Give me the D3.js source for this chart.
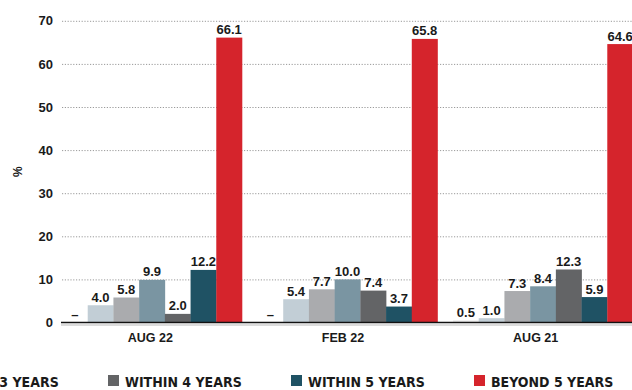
<!DOCTYPE html>
<html>
<head>
<meta charset="utf-8">
<script src="https://cdn.jsdelivr.net/npm/d3@7/dist/d3.min.js"></script>
<style>
  html, body { margin: 0; padding: 0; background: #fff; }
  svg { display: block; }
  text { font-family: "Liberation Sans", Arial, sans-serif; font-weight: bold; fill: #1a1a1a; }
  .legend text { font-family: "Liberation Sans Narrow", "DejaVu Sans Condensed", sans-serif; }
</style>
</head>
<body>
<svg id="chart" width="632" height="390"></svg>
<script>
// ---- data ----
const categories = ["AUG 22", "FEB 22", "AUG 21"];
const seriesNames = ["WITHIN 6 MONTHS", "WITHIN 1 YEAR", "WITHIN 2 YEARS", "WITHIN 3 YEARS", "WITHIN 4 YEARS", "WITHIN 5 YEARS", "BEYOND 5 YEARS"];
const seriesColors = ["#ebebeb", "#c2ced6", "#aaabae", "#7a95a2", "#636466", "#1f5264", "#d5242c"];
const valuesAug22 = [null, 4.0, 5.8, 9.9, 2.0, 12.2, 66.1];
const valuesFeb22 = [null, 5.4, 7.7, 10.0, 7.4, 3.7, 65.8];
const valuesAug21 = [0.5, 1.0, 7.3, 8.4, 12.3, 5.9, 64.6];
const yTicks = [0, 10, 20, 30, 40, 50, 60, 70];
const yLabel = "%";

const groups = [valuesAug22, valuesFeb22, valuesAug21];

const svg = d3.select("#chart");

const plotLeft = 62, plotRight = 632;
const x0 = d3.scaleBand().domain(categories).range([62, 633]).paddingInner(0.0793).paddingOuter(0);
const x1 = d3.scaleBand().domain(d3.range(seriesNames.length)).range([0, x0.bandwidth()]);
const xLab = d3.scaleBand().domain(categories).range([54, 632]);
const y = d3.scaleLinear().domain([0, 70]).range([322.5, 20.8]);

// gridlines + y tick labels
const yAxis = svg.append("g")
  .attr("transform", `translate(${plotLeft},0)`)
  .call(d3.axisLeft(y).tickValues(yTicks).tickSize(-(plotRight - plotLeft)).tickPadding(9).tickFormat(d3.format("d")));
yAxis.select(".domain").remove();
yAxis.selectAll(".tick line")
  .attr("stroke", "#9a9a9a").attr("stroke-width", 1).attr("stroke-dasharray", "1.2,1.6")
  .filter(d => d === 0).remove();
yAxis.selectAll(".tick text").style("font-size", "13px").attr("fill", "#1a1a1a");

// y label
svg.append("text")
  .attr("transform", `translate(22,${y(35)}) rotate(-90)`)
  .attr("text-anchor", "middle")
  .style("font-size", "12px")
  .text(yLabel);

// bars
const gGroups = svg.append("g").selectAll("g")
  .data(categories)
  .join("g")
  .attr("transform", c => `translate(${x0(c)},0)`);

gGroups.each(function(c, gi) {
  const vals = groups[gi].map((v, i) => ({ v, i }));
  const g = d3.select(this);
  g.selectAll("rect")
    .data(vals)
    .join("rect")
    .attr("x", d => x1(d.i))
    .attr("width", x1.bandwidth() + 0.3)
    .attr("y", d => y(d.v || 0))
    .attr("height", d => y(0) - y(d.v || 0))
    .attr("fill", d => seriesColors[d.i]);
  g.selectAll("text.val")
    .data(vals)
    .join("text")
    .attr("class", "val")
    .attr("x", d => x1(d.i) + x1.bandwidth() / 2)
    .attr("y", d => y(d.v || 0) - 3.5)
    .attr("text-anchor", "middle")
    .style("font-size", "13px")
    .text(d => d.v == null ? "–" : d3.format(".1f")(d.v));
});

// baseline
svg.append("line")
  .attr("x1", plotLeft - 1).attr("x2", plotRight)
  .attr("y1", y(0) + 2.6).attr("y2", y(0) + 2.6)
  .attr("stroke", "#dcdcdc").attr("stroke-width", 2);
svg.append("line")
  .attr("x1", plotLeft - 1).attr("x2", plotRight)
  .attr("y1", y(0)).attr("y2", y(0))
  .attr("stroke", "#111").attr("stroke-width", 1.6);

// category labels
const xAxis = svg.append("g")
  .attr("transform", `translate(0,333)`)
  .call(d3.axisBottom(xLab).tickSize(0).tickPadding(0));
xAxis.select(".domain").remove();
xAxis.selectAll(".tick text").style("font-size", "12.5px").attr("fill", "#1a1a1a");

// legend
const legStep = 183, lastSwatchX = 474;
const legend = svg.append("g").attr("class", "legend");
const items = legend.selectAll("g")
  .data(seriesNames)
  .join("g")
  .attr("transform", (d, i) => `translate(${lastSwatchX - (seriesNames.length - 1 - i) * legStep},0)`);
items.append("rect")
  .attr("x", 0).attr("y", 375).attr("width", 11).attr("height", 11)
  .attr("fill", (d, i) => seriesColors[i]);
items.append("text")
  .attr("x", 17).attr("y", 386.5)
  .style("font-size", "14px")
  .text(d => d);
</script>
</body>
</html>
